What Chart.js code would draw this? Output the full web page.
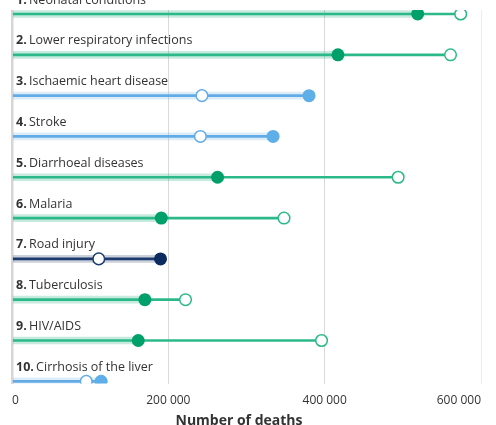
<!DOCTYPE html>
<html><head><meta charset="utf-8">
<script src="https://cdn.jsdelivr.net/npm/chart.js@4/dist/chart.umd.min.js"></script>
<style>html,body{margin:0;padding:0;background:#fff}#wrap{width:496px;height:425px;position:relative}</style>
</head><body><div id="wrap"><canvas id="c"></canvas></div>
<script>
const categories = ["Neonatal conditions","Lower respiratory infections","Ischaemic heart disease","Stroke","Diarrhoeal diseases","Malaria","Road injury","Tuberculosis","HIV/AIDS","Cirrhosis of the liver"];
const deaths2019 = [519000, 417000, 380000, 334000, 263000, 191000, 190000, 170000, 161500, 114000];
const deaths2000 = [574000, 561000, 243000, 241000, 494000, 348000, 111000, 222000, 396000, 95000];
const groups = ["comm","comm","ncd","ncd","comm","comm","inj","comm","comm","ncd"];
const xTicks = [0, 200000, 400000, 600000];
const axisTitle = "Number of deaths";

const palette = {
  comm: {dot:"#00a06b", line:"#2cb98a", band:"rgba(0,160,107,0.22)"},
  ncd:  {dot:"#5eaee8", line:"#62abe6", band:"rgba(94,174,232,0.22)"},
  inj:  {dot:"#0c2b5e", line:"#1d3b6e", band:"rgba(12,43,94,0.22)"}
};
const rows = categories.map((c,i)=>i+1);

const labelPlugin = {
  id:'rowLabels',
  afterDatasetsDraw(chart){
    const ctx = chart.ctx, ys = chart.scales.y, xs = chart.scales.x;
    ctx.save();
    ctx.textBaseline = 'middle';
    ctx.fillStyle = '#333';
    categories.forEach((c,i)=>{
      const y = ys.getPixelForValue(rows[i]) - 14;
      const x = xs.left + 4;
      ctx.font = 'bold 12.5px "Open Sans"';
      const num = (i+1)+'. ';
      ctx.fillText(num, x, y);
      const w = ctx.measureText(num).width;
      ctx.font = '12.5px "Open Sans"';
      ctx.fillText(c, x + w - 1, y);
    });
    ctx.font = 'bold 14px "Open Sans"';
    ctx.fillStyle = '#333';
    ctx.textAlign = 'center';
    ctx.fillText(axisTitle, 239, 421);
    ctx.restore();
  }
};

new Chart(document.getElementById('c'), {
  type:'bar',
  data:{
    datasets:[
      {
        type:'scatter', label:'2019', order:0,
        data: rows.map((r,i)=>({x:deaths2019[i], y:r})),
        pointRadius:6.5, pointBorderWidth:0,
        pointBackgroundColor: groups.map(g=>palette[g].dot),
        pointBorderColor: groups.map(g=>palette[g].dot)
      },
      {
        type:'scatter', label:'2000', order:1,
        data: rows.map((r,i)=>({x:deaths2000[i], y:r})),
        pointRadius:5.8, pointBorderWidth:1.5,
        pointBackgroundColor:'#ffffff',
        pointBorderColor: groups.map(g=>palette[g].line)
      },
      {
        label:'range', order:2, grouped:false,
        data: rows.map((r,i)=>({x:[0, Math.max(deaths2019[i], deaths2000[i])], y:r})),
        backgroundColor: groups.map(g=>palette[g].line),
        barThickness:2, borderWidth:0, borderSkipped:false
      },
      {
        label:'band', order:3, grouped:false,
        data: rows.map((r,i)=>({x:[0, deaths2019[i]], y:r})),
        backgroundColor: groups.map(g=>palette[g].band),
        barThickness:7, borderWidth:0, borderSkipped:false
      }
    ]
  },
  options:{
    indexAxis:'y',
    responsive:true, maintainAspectRatio:false, animation:false,
    layout:{padding:{left:12,right:15,top:10,bottom:7}},
    plugins:{legend:{display:false}, tooltip:{enabled:false}},
    events:[],
    scales:{
      x:{
        type:'linear', min:0, max:600000,
        afterBuildTicks(s){ s.ticks = xTicks.map(v=>({value:v})); },
        border:{display:false},
        grid:{
          drawTicks:false,
          color:(c)=> c.tick && c.tick.value===0 ? '#d6d6d6' : (c.tick && c.tick.value===600000 ? '#ececec' : '#d9d9d9'),
          lineWidth:(c)=> c.tick && c.tick.value===0 ? 2.5 : 1
        },
        ticks:{
          align:'inner', padding:10, color:'#333',
          font:{family:'"Open Sans"', size:12},
          callback:(v)=> v===0 ? '0' : String(v).replace(/\B(?=(\d{3})+(?!\d))/g,' ')
        }
      },
      y:{
        type:'linear', reverse:true, min:0.902, max:10.056, offset:false,
        display:false
      }
    }
  },
  plugins:[labelPlugin]
});
</script></body></html>
